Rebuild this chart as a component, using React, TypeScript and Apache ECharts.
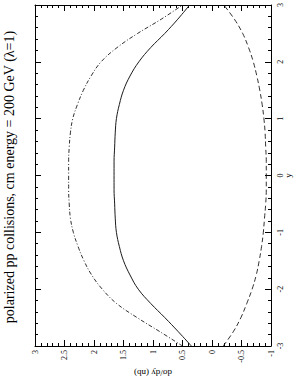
import React, { useEffect, useRef } from "react";
import * as echarts from "echarts";

const titleText = "polarized pp collisions, cm energy = 200 GeV (\u03bb=1)";
const xName = "d\u03c3/dy (nb)";
const yName = "y";

const rapidity = [-3, -2.75, -2.5, -2.25, -2, -1.75, -1.5, -1.25, -1, -0.75, -0.5, -0.25, 0, 0.25, 0.5, 0.75, 1, 1.25, 1.5, 1.75, 2, 2.25, 2.5, 2.75, 3];
const solidValues = [0.35, 0.57, 0.80, 1.04, 1.25, 1.39, 1.50, 1.57, 1.62, 1.64, 1.65, 1.66, 1.66, 1.66, 1.65, 1.64, 1.62, 1.57, 1.50, 1.39, 1.24, 1.04, 0.80, 0.58, 0.38];
const dashDotValues = [0.50, 0.88, 1.27, 1.62, 1.86, 2.04, 2.17, 2.27, 2.35, 2.40, 2.42, 2.43, 2.43, 2.43, 2.42, 2.40, 2.36, 2.28, 2.18, 2.05, 1.88, 1.61, 1.26, 0.86, 0.50];
const dashedValues = [-0.19, -0.36, -0.49, -0.59, -0.68, -0.75, -0.80, -0.84, -0.87, -0.89, -0.91, -0.92, -0.92, -0.92, -0.91, -0.90, -0.88, -0.85, -0.81, -0.76, -0.70, -0.62, -0.52, -0.38, -0.20];

const serif = '"Liberation Serif", "Times New Roman", "DejaVu Serif", serif';

function pairs(vals: number[]) {
  return vals.map((v, i) => [v, rapidity[i]]);
}

export default function App() {
  const ref = useRef<HTMLDivElement>(null);
  useEffect(() => {
    if (!ref.current) return;
    const chart = echarts.init(ref.current, undefined, { renderer: "svg" });
    const black = "#000";
    const lineCol = "#1a1a1a";
    const baseX = {
      type: "value",
      min: -1,
      max: 3,
      interval: 0.5,
      inverse: true,
      axisLine: { show: true, onZero: false, lineStyle: { color: black, width: 1 } },
      axisTick: { show: true, inside: true, length: 6, lineStyle: { color: black, width: 1 } },
      minorTick: { show: true, splitNumber: 5, length: 3, lineStyle: { color: black, width: 1 } },
      splitLine: { show: false },
      minorSplitLine: { show: false },
    };
    const baseY = {
      type: "value",
      min: -3,
      max: 3,
      interval: 1,
      axisLine: { show: true, onZero: false, lineStyle: { color: black, width: 1 } },
      axisTick: { show: true, inside: true, length: 6, lineStyle: { color: black, width: 1 } },
      minorTick: { show: true, splitNumber: 5, length: 3, lineStyle: { color: black, width: 1 } },
      splitLine: { show: false },
      minorSplitLine: { show: false },
    };
    chart.setOption({
      animation: false,
      backgroundColor: "#fff",
      grid: { left: 35, right: 21, top: 2, bottom: 31 },
      xAxis: [
        {
          ...baseX,
          position: "bottom",
          axisLabel: { rotate: 90, fontSize: 8, color: black, margin: 4, fontFamily: serif },
          name: xName,
          nameLocation: "middle",
          nameRotate: 180,
          nameGap: 22,
          nameMoveOverlap: false,
          nameTextStyle: { fontSize: 9, color: black, fontFamily: serif },
        },
        { ...baseX, position: "top", axisLabel: { show: false } },
      ],
      yAxis: [
        {
          ...baseY,
          position: "right",
          axisLabel: { rotate: 90, fontSize: 8, color: black, margin: 5, fontFamily: serif },
          name: yName,
          nameLocation: "middle",
          nameRotate: 90,
          nameGap: 12,
          nameMoveOverlap: false,
          nameTextStyle: { fontSize: 9, color: black, fontFamily: serif },
        },
        { ...baseY, position: "left", axisLabel: { show: false } },
      ],
      graphic: [
        {
          type: "text",
          x: 9,
          y: 177,
          rotation: Math.PI / 2,
          style: {
            text: titleText,
            fontSize: 14,
            fontFamily: serif,
            fill: black,
            align: "center",
            verticalAlign: "middle",
          },
        },
      ],
      series: [
        {
          type: "line",
          data: pairs(solidValues),
          xAxisIndex: 0,
          yAxisIndex: 0,
          showSymbol: false,
          smooth: 0.4,
          lineStyle: { color: lineCol, width: 1, type: "solid" },
        },
        {
          type: "line",
          data: pairs(dashDotValues),
          xAxisIndex: 0,
          yAxisIndex: 0,
          showSymbol: false,
          smooth: 0.4,
          lineStyle: { color: lineCol, width: 0.9, type: [4, 2, 1, 2] },
        },
        {
          type: "line",
          data: pairs(dashedValues),
          xAxisIndex: 0,
          yAxisIndex: 0,
          showSymbol: false,
          smooth: 0.4,
          lineStyle: { color: lineCol, width: 0.9, type: [5, 3] },
        },
      ],
    });
    return () => chart.dispose();
  }, []);
  return (
    <div
      ref={ref}
      style={{ position: "fixed", left: 0, top: 0, width: 300, height: 382, background: "#fff" }}
    />
  );
}
